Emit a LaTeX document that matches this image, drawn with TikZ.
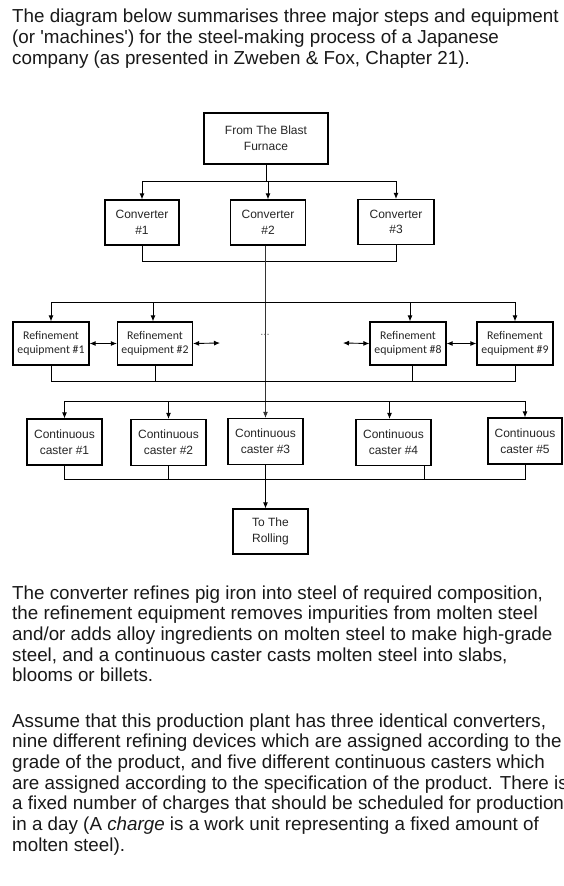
\documentclass[tikz,border=0pt]{standalone}
\usepackage{fontspec}
\setmainfont{Liberation Sans}
\newfontfamily\qfont{Liberation Sans}
\newfontfamily\calib{Carlito}
\usetikzlibrary{arrows.meta}
\begin{document}
\begin{tikzpicture}[x=1pt,y=-1pt,
  box/.style={draw, line width=1.2pt, inner sep=0pt, align=center,
    minimum width=75, minimum height=45, text=black!85,
    font=\fontsize{12}{15.7}\selectfont},
  refbox/.style={box, minimum width=76, minimum height=43,
    font=\calib\fontsize{11.8}{14.7}\selectfont},
  wire/.style={line width=0.9pt},
  arr/.style={wire, -{Latex[length=6pt,width=5pt]}},
  darr/.style={wire, {Latex[length=6pt,width=5pt]}-{Latex[length=6pt,width=5pt]}},
  para/.style={anchor=base west, inner sep=0pt, text=black!90,
    font=\fontsize{18.8}{20.7}\selectfont}]
\useasboundingbox (0,0) rectangle (564,886);
\clip (0,0) rectangle (564,886);
\fill[white] (0,0) rectangle (564,886);

% intro text
\node[para] (t1) at (12,23) {The diagram below summarises three major steps and equipment};
\node[para] (t2) at (12,43.7) {(or {\qfont'}machines{\qfont'}) for the steel-making process of a Japanese};
\node[para] (t3) at (12,64.4) {company (as presented in Zweben \& Fox, Chapter 21).};

% boxes
\node[box, minimum width=124, minimum height=51] (bf) at (266,138.5) {From The Blast\\Furnace};
\node[box, minimum width=74] (c1) at (142,222.5) {Converter\\\#1};
\node[box] (c2) at (268,222.5) {Converter\\\#2};
\node[box, minimum width=76] (c3) at (396,222) {Converter\\\#3};

\node[refbox] (r1) at (51,343.5) {Refinement\\equipment \#1};
\node[refbox, minimum width=75] (r2) at (155,343.5) {Refinement\\equipment \#2};
\node[refbox] (r8) at (408,343.5) {Refinement\\equipment \#8};
\node[refbox] (r9) at (515,343.5) {Refinement\\equipment \#9};

\node[box, minimum height=46] (k1) at (64.5,442) {Continuous\\caster \#1};
\node[box, minimum height=46] (k2) at (168.5,442.5) {Continuous\\caster \#2};
\node[box, minimum height=46] (k3) at (265.5,441.5) {Continuous\\caster \#3};
\node[box, minimum height=46] (k4) at (393.5,442.5) {Continuous\\caster \#4};
\node[box, minimum width=74, minimum height=46] (k5) at (525,441) {Continuous\\caster \#5};

\node[box] (ro) at (270.5,531.5) {To The\\Rolling};

% bus coordinates
\coordinate (cb) at (0,181);
\coordinate (cbb) at (0,261);
\coordinate (rt) at (0,302);
\coordinate (rb) at (0,381);
\coordinate (kt) at (0,401);
\coordinate (kb) at (0,479);
\coordinate (lftip) at (220,343);
\coordinate (rgtip) at (343,343);

% furnace to converters
\draw[wire] (bf.south) -- (bf.south |- cb);
\draw[wire] (c1.north |- cb) -- (c3.north |- cb);
\draw[arr] (c1.north |- cb) -- (c1.north);
\draw[arr] (c2.north |- cb) -- (c2.north);
\draw[arr] (c3.north |- cb) -- (c3.north);

% converters bus
\draw[wire] (c1.south) -- (c1.south |- cbb) -- (c3.south |- cbb) -- (c3.south);

% main vertical line
\draw[arr, black!80] (c2.south -| k3.north) -- (k3.north);
\draw[arr] (k3.south) -- (k3.south |- ro.north);

% refinement buses
\draw[wire] (r1.north |- rt) -- (r9.north |- rt);
\draw[arr] (r1.north |- rt) -- (r1.north);
\draw[arr] ([xshift=-2]r2.north |- rt) -- ([xshift=-2]r2.north);
\draw[arr] ([xshift=2]r8.north |- rt) -- ([xshift=2]r8.north);
\draw[arr] (r9.north |- rt) -- (r9.north);
\draw[wire] (r1.south) -- (r1.south |- rb) -- (r9.south |- rb) -- (r9.south);
\draw[wire] (r2.south) -- (r2.south |- rb);
\draw[wire] ([xshift=4]r8.south) -- ([xshift=4]r8.south |- rb);

% double arrows
\draw[darr] (r1.east) -- (r2.west);
\draw[darr] (r2.east) -- (lftip);
\draw[darr] (rgtip) -- (r8.west);
\draw[darr] (r8.east) -- (r9.west);
\node[inner sep=0pt, text=black!60, font=\fontsize{11}{11}\selectfont] (dots) at (265,335) {...};

% caster buses
\draw[wire] (k1.north |- kt) -- (k5.north |- kt);
\draw[arr] (k1.north |- kt) -- (k1.north);
\draw[arr] (k2.north |- kt) -- (k2.north);
\draw[arr] ([xshift=-4]k4.north |- kt) -- ([xshift=-4]k4.north);
\draw[arr] (k5.north |- kt) -- (k5.north);
\draw[wire] (k1.south) -- (k1.south |- kb) -- (k5.south |- kb) -- (k5.south);
\draw[wire] (k2.south) -- (k2.south |- kb);
\draw[wire] ([xshift=30.5]k4.south) -- ([xshift=30.5]k4.south |- kb);

% paragraphs
\node[para] (p1) at (12,599) {The converter refines pig iron into steel of required composition,};
\node[para] (p2) at (12,619.7) {the refinement equipment removes impurities from molten steel};
\node[para] (p3) at (12,640.4) {and/or adds alloy ingredients on molten steel to make high-grade};
\node[para] (p4) at (12,661.1) {steel, and a continuous caster casts molten steel into slabs,};
\node[para] (p5) at (12,681.8) {blooms or billets.};

\node[para] (q1) at (12,727) {Assume that this production plant has three identical converters,};
\node[para] (q2) at (12,747.7) {nine different refining devices which are assigned according to the};
\node[para] (q3) at (12,768.4) {grade of the product, and five different continuous casters which};
\node[para] (q4) at (12,789.1) {are assigned according to the specification of the product. There is};
\node[para] (q5) at (12,809.8) {a fixed number of charges that should be scheduled for production};
\node[para] (q6) at (12,830.5) {in a day (A \textit{charge} is a work unit representing a fixed amount of};
\node[para] (q7) at (12,851.2) {molten steel).};
\end{tikzpicture}
\end{document}
